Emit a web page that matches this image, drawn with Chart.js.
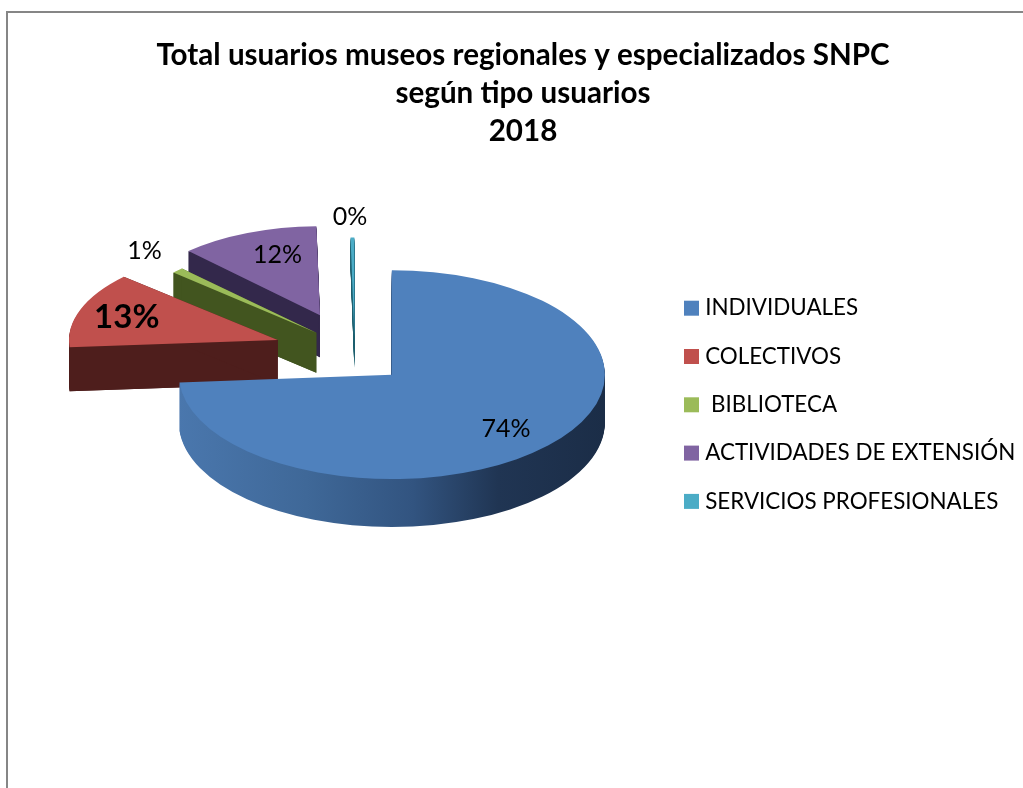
<!DOCTYPE html>
<html><head><meta charset="utf-8">
<style>
html,body{margin:0;padding:0;background:#fff;overflow:hidden;width:1023px;height:788px}
#frame{position:absolute;left:6px;top:11px;width:1100px;height:900px;border-top:2px solid #868686;border-left:2px solid #868686}
canvas{position:absolute;left:0;top:0}
</style>
<script src="https://cdn.jsdelivr.net/npm/chart.js@4"></script>
</head><body>
<div id="frame"></div>
<canvas id="c" width="1046" height="788" style="width:1046px;height:788px"></canvas>
<script>
const categories = ["INDIVIDUALES","COLECTIVOS"," BIBLIOTECA","ACTIVIDADES DE EXTENSIÓN","SERVICIOS PROFESIONALES"];
const values = [73.8,13,1,11.9,0.3];
const topColors = ["#4F81BD","#C0504D","#9BBB59","#8064A2","#4BACC6"];
const wallColors = [null,"#4e1e1c","#42551f","#33284b","#1f5f70"];
const titleLines = ["Total usuarios museos regionales y especializados SNPC","según tipo usuarios","2018"];

// 3D look: squash, explosion and per-slice perspective corrections
const CENTER = {x:342,y:350}, SQUASH = .49, EXPLODE = 68;
const look = [
 {k:1,   sq:.49, dx:0,  dy:2, depth:48, lr:.77, lx:-6, ly:0,  font:"25px Lato"},
 {k:.98, sq:.45, dx:0,  dy:1, depth:44, lr:.74, lx:-2, ly:2,  font:"bold 33px Lato"},
 {k:.91, sq:.46, dx:23, dy:6, depth:40, lr:1.14,lx:2,  ly:1,  font:"25px Lato"},
 {k:.89, sq:.47, dx:4,  dy:-4,depth:42, lr:.63, lx:9,  ly:0,  font:"25px Lato"},
 {k:.95, sq:.49, dx:13, dy:20,depth:31, lr:1.17,lx:-2, ly:2,  font:"25px Lato"}
];
const DRAW_ORDER = [4,3,2,1,0];
const LEGEND_POS = {x:689,y:297};

function apexOf(arc,i){
  const mid=(arc.startAngle+arc.endAngle)/2, l=look[i];
  return {mid, x:CENTER.x+Math.cos(mid)*EXPLODE+l.dx, y:CENTER.y+Math.sin(mid)*EXPLODE*SQUASH+l.dy};
}
const pie3d = {
  id:'pie3d',
  afterLayout(chart){ chart.legend.left=LEGEND_POS.x-chart.legend.options.labels.padding; chart.legend.top=LEGEND_POS.y-chart.legend.options.labels.padding; },
  beforeDatasetDraw(){ return false; },
  beforeDatasetsDraw(chart){
    const ctx=chart.ctx, arcs=chart.getDatasetMeta(0).data;
    DRAW_ORDER.forEach(i=>{
      const arc=arcs[i], l=look[i], a=apexOf(arc,i);
      let fill=wallColors[i];
      if(!fill){
        fill=ctx.createLinearGradient(-arc.outerRadius,0,arc.outerRadius,0);
        fill.addColorStop(0,"#4a77ad");fill.addColorStop(.3,"#3f6898");fill.addColorStop(.55,"#325480");fill.addColorStop(.75,"#203553");fill.addColorStop(1,"#1b2d47");
      }
      for(let d=l.depth;d>=1;d--){
        ctx.save();
        ctx.translate(a.x,a.y+d);
        ctx.scale(l.k,l.k*l.sq);
        ctx.beginPath();ctx.moveTo(0,0);
        ctx.arc(0,0,arc.outerRadius,arc.startAngle,arc.endAngle);
        ctx.closePath();ctx.fillStyle=fill;ctx.fill();
        ctx.restore();
      }
      // solid faces along both straight cuts, so thin slices have no gaps
      if(wallColors[i]){
        [arc.startAngle,arc.endAngle].forEach(t=>{
          const ex=a.x+Math.cos(t)*arc.outerRadius*l.k, ey=a.y+Math.sin(t)*arc.outerRadius*l.k*l.sq;
          ctx.beginPath();ctx.moveTo(a.x,a.y);ctx.lineTo(ex,ey);ctx.lineTo(ex,ey+l.depth);ctx.lineTo(a.x,a.y+l.depth);ctx.closePath();
          ctx.fillStyle=wallColors[i];ctx.fill();
        });
      }
      ctx.save();
      ctx.translate(a.x,a.y);
      ctx.scale(l.k,l.k*l.sq);
      ctx.translate(-arc.x,-arc.y);
      arc.draw(ctx);
      ctx.restore();
    });
  },
  afterDatasetsDraw(chart){
    const ctx=chart.ctx, arcs=chart.getDatasetMeta(0).data;
    const total=values.reduce((s,v)=>s+v,0);
    arcs.forEach((arc,i)=>{
      const l=look[i], a=apexOf(arc,i), R=arc.outerRadius*l.lr;
      ctx.save();
      ctx.font=l.font;ctx.fillStyle="#000";ctx.textAlign="center";ctx.textBaseline="middle";
      ctx.fillText(Math.round(values[i]/total*100)+"%",a.x+Math.cos(a.mid)*R+l.lx,a.y+Math.sin(a.mid)*R*SQUASH+l.ly);
      ctx.restore();
    });
  }
};
new Chart(document.getElementById('c'),{
  type:'pie',
  data:{labels:categories,datasets:[{data:values,backgroundColor:topColors,borderWidth:0,clip:false}]},
  options:{
    responsive:false,animation:false,events:[],
    radius:213,
    plugins:{
      tooltip:{enabled:false},
      title:{display:true,text:titleLines,color:"#000",padding:{top:36,bottom:6},font:{family:"Lato",size:29.6,weight:"bold",lineHeight:1.285}},
      legend:{position:'right',align:'start',labels:{usePointStyle:true,pointStyle:'rect',boxWidth:5,boxHeight:15,padding:25.9,color:"#000",font:{family:"Lato",size:22.4}}}
    }
  },
  plugins:[pie3d]
});
</script>
</body></html>
